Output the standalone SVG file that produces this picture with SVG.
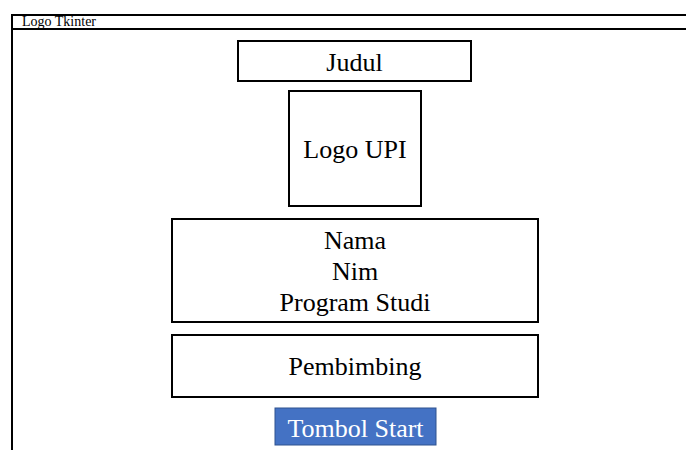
<svg xmlns="http://www.w3.org/2000/svg" width="686" height="450" viewBox="0 0 686 450">
<style>
.box{fill:#fff;stroke:#000;stroke-width:2}
.t{font-size:26px;fill:#000;text-anchor:middle}
</style>
<rect width="686" height="450" fill="#fff"/>
<g font-family="Liberation Serif, Times New Roman, serif">
<g id="window">
<path d="M687 15 H12 V451" fill="none" stroke="#000" stroke-width="2"/>
<line x1="12" y1="29" x2="687" y2="29" stroke="#000" stroke-width="2"/>
<text x="22" y="26" font-size="14">Logo Tkinter</text>
</g>
<g id="judul">
<rect class="box" x="238" y="41" width="233" height="40"/>
<text class="t" x="354.5" y="71">Judul</text>
</g>
<g id="logo-upi">
<rect class="box" x="289" y="91" width="132" height="115"/>
<text class="t" x="355" y="158">Logo UPI</text>
</g>
<g id="identitas">
<rect class="box" x="172" y="219" width="366" height="103"/>
<text class="t" x="355" y="249">Nama</text>
<text class="t" x="355" y="280">Nim</text>
<text class="t" x="355" y="311">Program Studi</text>
</g>
<g id="pembimbing">
<rect class="box" x="172" y="335" width="366" height="62"/>
<text class="t" x="355" y="375">Pembimbing</text>
</g>
<g id="tombol-start">
<rect x="275" y="408" width="161" height="37" fill="#4472C4" stroke="#2F528F" stroke-width="1"/>
<text class="t" x="355.5" y="437" fill="#fff" style="fill:#fff">Tombol Start</text>
</g>
<g id="connectors"></g>
</g>
</svg>
